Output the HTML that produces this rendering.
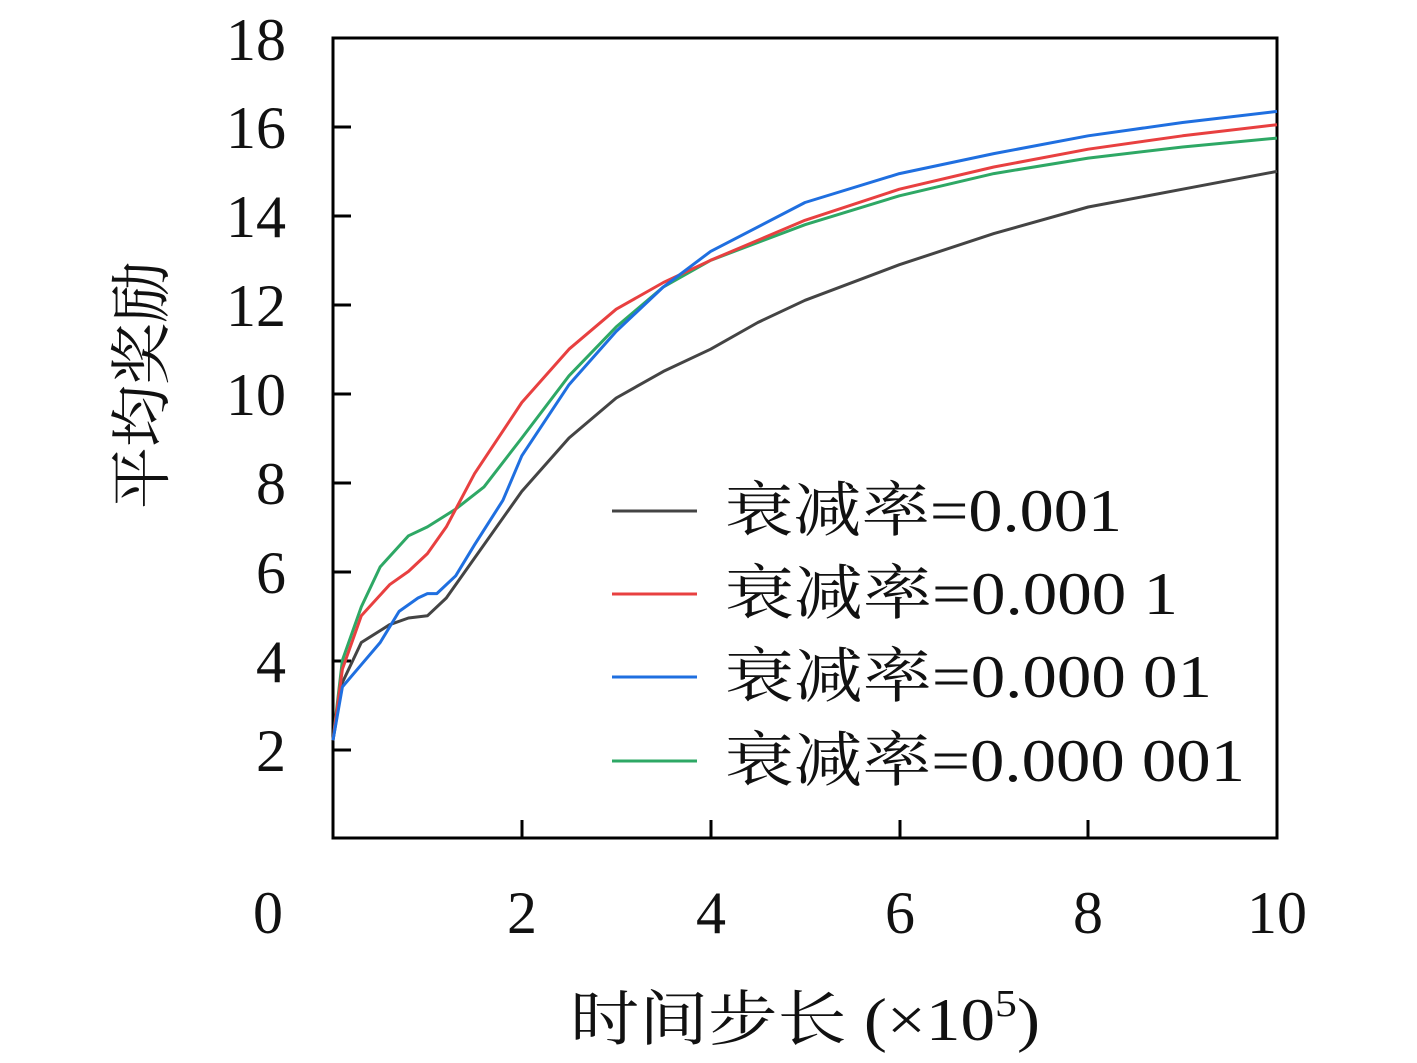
<!DOCTYPE html>
<html><head><meta charset="utf-8"><style>
body{margin:0;background:#fff;}
svg text{font-family:"Liberation Serif","Noto Serif CJK SC",serif;fill:#111;}
</style></head><body>
<svg id="s" width="1417" height="1058" xmlns="http://www.w3.org/2000/svg">
<rect x="333" y="38" width="944" height="800" fill="none" stroke="#000" stroke-width="3"/>
<g stroke="#000" stroke-width="3">
<line x1="522" y1="838" x2="522" y2="820"/><line x1="711" y1="838" x2="711" y2="820"/>
<line x1="900" y1="838" x2="900" y2="820"/><line x1="1088" y1="838" x2="1088" y2="820"/>
<line x1="333" y1="127" x2="351" y2="127"/><line x1="333" y1="216" x2="351" y2="216"/>
<line x1="333" y1="305" x2="351" y2="305"/><line x1="333" y1="394" x2="351" y2="394"/>
<line x1="333" y1="483" x2="351" y2="483"/><line x1="333" y1="572" x2="351" y2="572"/>
<line x1="333" y1="661" x2="351" y2="661"/><line x1="333" y1="750" x2="351" y2="750"/>
</g>
<g font-size="60" text-anchor="end">
<text x="286" y="60">18</text><text x="286" y="148">16</text><text x="286" y="237">14</text>
<text x="286" y="326">12</text><text x="286" y="415">10</text><text x="286" y="504">8</text>
<text x="286" y="593">6</text><text x="286" y="682">4</text><text x="286" y="771">2</text>
</g>
<g font-size="60" text-anchor="middle">
<text x="268" y="933">0</text><text x="522" y="933">2</text><text x="711" y="933">4</text>
<text x="900" y="933">6</text><text x="1088" y="933">8</text><text x="1277" y="933">10</text>
</g>
<text x="570" y="1040" font-size="60" textLength="470" lengthAdjust="spacingAndGlyphs">时间步长 (×10<tspan font-size="38" dy="-24">5</tspan><tspan dy="24">)</tspan></text>
<text transform="translate(163,385) rotate(-90)" font-size="62" text-anchor="middle">平均奖励</text>
<g id="curves" fill="none" stroke-width="3"></g>
<g stroke-width="3">
<line x1="612" y1="511" x2="697" y2="511" stroke="#444"/>
<line x1="612" y1="594" x2="697" y2="594" stroke="#e84040"/>
<line x1="612" y1="677" x2="697" y2="677" stroke="#1f6fe0"/>
<line x1="612" y1="761" x2="697" y2="761" stroke="#2ea865"/>
</g>
<g font-size="60">
<text x="725" y="531" textLength="397" lengthAdjust="spacingAndGlyphs">衰减率=0.001</text>
<text x="725" y="614" textLength="453" lengthAdjust="spacingAndGlyphs">衰减率=0.000 1</text>
<text x="725" y="697" textLength="487" lengthAdjust="spacingAndGlyphs">衰减率=0.000 01</text>
<text x="725" y="781" textLength="520" lengthAdjust="spacingAndGlyphs">衰减率=0.000 001</text>
</g>
</svg>
<script>
var D={"#444":[[0,2.2],[0.1,3.5],[0.3,4.4],[0.6,4.8],[0.8,4.95],[1,5],[1.2,5.4],[1.5,6.3],[2,7.8],[2.5,9],[3,9.9],[3.5,10.5],[4,11],[4.5,11.6],[5,12.1],[6,12.9],[7,13.6],[8,14.2],[9,14.6],[10,15]],
"#2ea865":[[0,2.2],[0.1,4],[0.3,5.2],[0.5,6.1],[0.8,6.8],[1,7],[1.3,7.4],[1.6,7.9],[2,9],[2.5,10.4],[3,11.5],[3.5,12.4],[4,13],[5,13.8],[6,14.45],[7,14.95],[8,15.3],[9,15.55],[10,15.75]],
"#e84040":[[0,2.2],[0.1,3.8],[0.3,5],[0.6,5.7],[0.8,6],[1,6.4],[1.2,7],[1.5,8.2],[2,9.8],[2.5,11],[3,11.9],[3.5,12.5],[4,13],[5,13.9],[6,14.6],[7,15.1],[8,15.5],[9,15.8],[10,16.05]],
"#1f6fe0":[[0,2.2],[0.1,3.4],[0.3,3.9],[0.5,4.4],[0.7,5.1],[0.9,5.4],[1,5.5],[1.1,5.5],[1.3,5.9],[1.5,6.6],[1.8,7.6],[2,8.6],[2.5,10.2],[3,11.4],[3.5,12.4],[4,13.2],[5,14.3],[6,14.95],[7,15.4],[8,15.8],[9,16.1],[10,16.35]]};
var g=document.getElementById("curves"),h="";
for(var c in D){var p=D[c].map(function(q){return (333+q[0]*94.4).toFixed(1)+","+(838-q[1]*44.44).toFixed(1)}).join(" ");
h+='<polyline stroke="'+c+'" points="'+p+'" stroke-linejoin="round"/>';}
g.innerHTML=h;
</script>
</body></html>
